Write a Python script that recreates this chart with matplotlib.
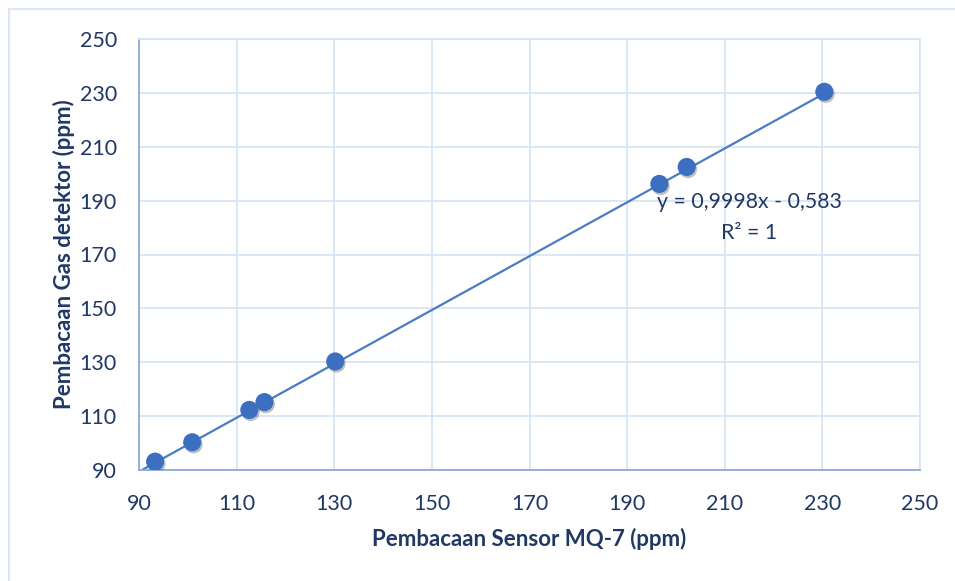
import numpy as np
import matplotlib.pyplot as plt
from matplotlib.patches import Rectangle
import matplotlib.patheffects as pe

# data
sensor_mq7 = [93.3, 100.9, 112.6, 115.7, 130.2, 196.6, 202.2, 230.4]
gas_detektor = [93.1, 100.3, 112.3, 115.2, 130.3, 196.2, 202.5, 230.4]
ticks = [90, 110, 130, 150, 170, 190, 210, 230, 250]
slope = 0.9998
intercept = -0.583

text_color = '#203864'
point_color = '#3C6FBF'
grid_color = '#D6E3F5'
spine_color = '#8EAADB'

plt.rcParams['font.family'] = ['Lato', 'DejaVu Sans']

fig = plt.figure(figsize=(9.55, 5.81), dpi=100)
ax = fig.add_axes([139 / 955, 1 - 470 / 581, 781 / 955, 431 / 581])

# outer chart frame (left and top edges visible)
fig.patches.append(Rectangle((9 / 955, -0.1), 1.2, 1 - 9 / 581 + 0.1,
                             transform=fig.transFigure, fill=False,
                             edgecolor='#DAE6F6', linewidth=1.5))

ax.set_xlim(90, 250)
ax.set_ylim(90, 250)
ax.set_xticks(ticks)
ax.set_yticks(ticks)
ax.grid(True, color=grid_color, linewidth=1.2)
ax.set_axisbelow(True)
ax.tick_params(length=0, labelsize=15.5, labelcolor=text_color)
ax.tick_params(axis='x', pad=17)
ax.tick_params(axis='y', pad=16)

for side in ['top', 'right']:
    ax.spines[side].set_color(grid_color)
    ax.spines[side].set_linewidth(1.2)
for side in ['left', 'bottom']:
    ax.spines[side].set_color(spine_color)
    ax.spines[side].set_linewidth(1.3)

# linear trendline
xs = np.array([90, max(sensor_mq7)])
ax.plot(xs, slope * xs + intercept, color='#4A7CC4', linewidth=1.6, zorder=2)

ax.scatter(sensor_mq7, gas_detektor, s=170, color=point_color, zorder=3,
           edgecolors='none',
           path_effects=[pe.SimplePatchShadow(offset=(1, -1.5), alpha=0.25,
                                              shadow_rgbFace='black'),
                         pe.Normal()])

ax.text(215, 189.5, 'y = 0,9998x - 0,583', ha='center', va='center',
        fontsize=15.3, color=text_color)
ax.text(215, 178, 'R² = 1', ha='center', va='center',
        fontsize=15.3, color=text_color)

ax.set_xlabel('Pembacaan Sensor MQ-7 (ppm)', fontsize=16, fontweight='bold',
              color=text_color, labelpad=10)
ax.set_ylabel('Pembacaan Gas detektor (ppm)', fontsize=16, fontweight='bold',
              color=text_color, labelpad=3)

fig.savefig('out.png', dpi=100)
